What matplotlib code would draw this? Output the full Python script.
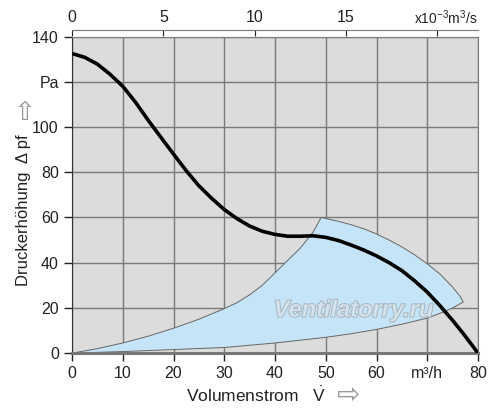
import matplotlib
matplotlib.use('Agg')
import matplotlib.pyplot as plt
import matplotlib.patheffects as pe

plt.rcParams['font.family'] = ['Liberation Sans', 'DejaVu Sans']
plt.rcParams['mathtext.fontset'] = 'custom'
plt.rcParams['mathtext.rm'] = 'Liberation Sans'

# fan curve (m3/h, Pa)
fan_x = [0, 2.5, 5, 7.5, 10, 12.5, 15, 17.5, 20, 22.5, 25, 27.5, 30, 32.5, 35, 37.5,
         40, 42.5, 45, 47.5, 50, 52.5, 55, 57.5, 60, 62.5, 65, 67.5, 70, 72.5, 75, 77.5, 80]
fan_y = [132.5, 130.8, 127.8, 123.3, 118, 111, 103, 95.5, 88, 80.7, 74, 68.5, 63.5, 59.5, 56.2, 53.9,
         52.5, 51.7, 51.7, 51.9, 51.2, 49.8, 47.8, 45.6, 43, 40, 36.5, 32, 27, 21, 14.5, 7.5, 0]

# working range area (blue)
area_x = [0, 5, 10, 15, 20, 25, 30, 32.5, 35, 37.5, 40, 42.5, 45, 47.5, 49.1,
          52.5, 55, 57.5, 60, 62.5, 65, 67.5, 70, 72.5, 75, 76.5, 77.1,
          75, 72.5, 70, 65, 60, 55, 50, 40, 30, 20, 10, 0]
area_y = [0, 2, 4.5, 7.5, 11, 15, 19.7, 22.3, 25.8, 30, 35.5, 41, 46.5, 53.5, 60,
          58.3, 56.8, 55, 52.7, 50, 47, 43.5, 39.5, 35, 29.2, 25, 22.6,
          20, 17.6, 15.5, 12.8, 10.5, 8.6, 7, 4.5, 2.5, 1.6, 0.7, 0]

x_ticks = [0, 10, 20, 30, 40, 50, 60, 70, 80]
x_labels = ['0', '10', '20', '30', '40', '50', '60', 'm³/h', '80']
y_ticks = [0, 20, 40, 60, 80, 100, 120, 140]
y_labels = ['0', '20', '40', '60', '80', '100', 'Pa', '140']
top_ticks = [0, 5, 10, 15, 20]
top_labels = ['0', '5', '10', '15', '']

fig = plt.figure(figsize=(5, 4.15), dpi=100)
ax = fig.add_axes([0.144, 0.149, 0.812, 0.763])
ax.set_facecolor('#dcdcdc')

ax.set_xlim(0, 80)
ax.set_ylim(0, 140)
ax.set_xticks(x_ticks)
ax.set_xticklabels(x_labels)
ax.set_yticks(y_ticks)
ax.set_yticklabels(y_labels)
ax.grid(True, color='#7a7a7a', lw=1)
ax.set_axisbelow(True)
ax.tick_params(labelsize=11.5, colors='#222222', length=6, width=1, direction='out')

for s in ['top', 'right']:
    ax.spines[s].set_color('#7a7a7a')
ax.spines['left'].set_color('#333333')
ax.spines['bottom'].set_color('#777777')
ax.spines['bottom'].set_linewidth(2.2)

ax.fill(area_x, area_y, facecolor='#c6e4f7', edgecolor='#666666', lw=0.7, zorder=2)
ax.plot(fan_x, fan_y, color='black', lw=2.6, zorder=3, solid_capstyle='round',
        solid_joinstyle='round')

# watermark
ax.text(55.5, 19, 'Ventilatorry.ru', fontsize=17, style='italic', fontweight='bold',
        color='#d6e6f1', alpha=0.85, ha='center', va='center', zorder=4,
        path_effects=[pe.withStroke(linewidth=1.3, foreground='#a3abb2')])

# top axis in 10^-3 m3/s
sec = ax.secondary_xaxis('top', functions=(lambda v: v / 3.6, lambda v: v * 3.6))
sec.set_xticks(top_ticks)
sec.set_xticklabels(top_labels)
sec.spines['top'].set_position(('outward', 5))
sec.spines['top'].set_color('#7a7a7a')
sec.tick_params(labelsize=11.5, colors='#222222', direction='in', length=4, pad=3)
fig.text(0.956, 0.935, 'x10$^{-3}$m$^3$/s', fontsize=10, color='#222222',
         ha='right', va='bottom')

# axis labels with hollow arrows
fig.text(0.048, 0.494, 'Druckerhöhung  Δ pf', rotation=90, fontsize=12,
         ha='center', va='center', color='#222222')
fig.text(0.05, 0.727, '⇧', fontsize=19, ha='center', va='center', color='#999999')
fig.text(0.513, 0.048, r'Volumenstrom   $\dot{\mathrm{V}}$', fontsize=12.5,
         ha='center', va='center', color='#222222')
fig.text(0.697, 0.046, '⇨', fontsize=20, ha='center', va='center', color='#999999')

fig.savefig('out.png', dpi=100)
